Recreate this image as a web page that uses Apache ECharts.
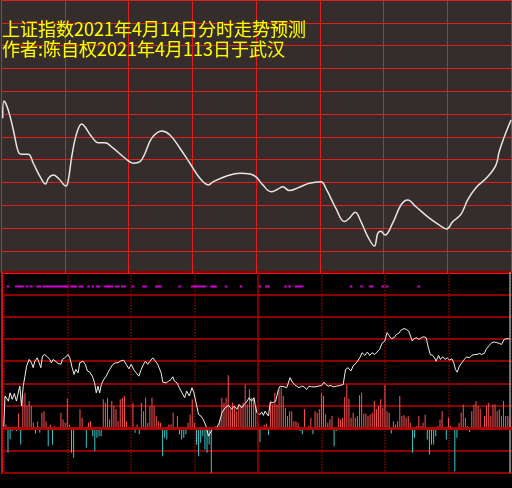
<!DOCTYPE html>
<html><head><meta charset="utf-8">
<script src="https://cdn.jsdelivr.net/npm/echarts@6/dist/echarts.min.js"></script>
<style>
html,body{margin:0;padding:0;background:#000;}
#c{width:512px;height:488px;background:linear-gradient(#352c2c 0,#352c2c 273px,#000 273px);}
</style>
</head><body><div id="c"></div>
<script>
// ---------- text ----------
const titleLine1 = '上证指数2021年4月14日分时走势预测';
const titleLine2 = '作者:陈自权2021年4月113日于武汉';

// ---------- top panel: forecast curve (minute of session, index level) ----------
const forecastMinutes = [0.8,1.4,3.4,5.8,8.1,9.7,12.8,15.2,18.4,21.0,22.3,24.6,27.0,30.6,31.7,33.3,35.6,38.0,39.5,42.7,45.8,48.9,52.8,58.4,62.3,65.4,67.8,70.9,75.6,79.5,84.2,88.9,93.6,97.6,99.9,106.2,112.5,117.2,120,123.2,127.1,130.2,132.6,135.7,140.4,145.1,150.6,152.9,157.6,161.6,163.9,166.7,169.4,172.6,175.7,177.3,178.8,180.7,184.3,188.2,191.4,195.3,201.6,206.3,209.7,212.6,216.5,219.6,223.5,229.0,232.9,234.4,236.8,240];
const forecastValues = [3398.1,3405.7,3401.8,3393.0,3383.5,3382.3,3382.3,3378.4,3372.5,3369.3,3371.8,3373.2,3371.8,3368.4,3371.1,3381.3,3391.5,3395.6,3394.4,3390.0,3387.4,3387.4,3385.0,3380.6,3378.4,3379.1,3382.8,3389.3,3392.5,3390.8,3385.0,3378.4,3371.8,3368.9,3370.3,3372.8,3374.0,3373.7,3372.4,3368.9,3365.9,3367.0,3368.1,3366.4,3367.9,3369.6,3370.3,3367.4,3358.6,3352.8,3354.3,3356.9,3352.8,3346.2,3342.1,3347.7,3348.6,3346.9,3352.1,3360.1,3362.3,3359.3,3354.3,3351.3,3349.6,3352.8,3356.1,3362.3,3367.7,3372.5,3377.6,3383.3,3389.9,3397.4];
const priceMin = 3330, priceMax = 3450, priceStep = 10;

// ---------- bottom panel ----------
// per-minute bars (0..239)
const barValues = [10,16,-110,-50,-13,0,-13,66,-73,150,158,100,121,99,24,-24,30,-21,69,76,31,-81,16,-73,8,0,0,69,39,24,
132,16,-111,-133,0,-8,84,46,0,-88,24,31,-36,-103,-43,-36,-36,129,114,136,39,121,99,84,31,129,136,144,31,0,
-8,114,-21,16,-28,114,76,136,24,99,136,99,54,31,24,-126,-43,-51,16,16,69,0,54,-28,-51,-43,-28,24,61,129,
24,-73,-126,-66,-36,-96,-111,-73,-204,0,8,9,39,136,114,136,237,84,114,99,76,106,99,114,195,106,174,136,136,100,
31,-63,8,15,21,-31,121,106,158,106,174,181,144,91,54,76,76,31,31,24,-13,-28,84,5,9,46,-28,76,69,84,
156,144,61,24,39,54,-81,-13,46,39,46,139,194,132,46,69,46,54,147,158,66,66,54,61,69,121,84,99,129,91,
193,76,69,-24,31,16,31,144,54,58,46,54,24,-111,-43,9,54,9,24,61,-51,-118,-73,-73,-36,9,39,76,-6,-51,
46,9,-6,-193,-43,24,69,106,46,9,-18,76,106,121,99,87,3,54,99,114,54,106,106,76,84,54,121,54,54,46];
// white line: [minute, value]
const flowLine = [[0,9],[0.6,144],[1.4,151],[2.2,121],[3,158],[4,129],[5,155],[6,121],[7,166],[7.6,188],[8.4,99],[9.2,188],[10,233],[10.8,278],[12,308],[13.1,293],[13.9,271],[14.7,300],[15.8,315],[16.7,293],[17.5,271],[18.3,323],[19.4,330],[20.5,320],[21.8,308],[22.5,293],[23.3,308],[24.1,300],[25.7,290],[27,286],[27.7,308],[28.8,315],[30.4,330],[31.2,315],[32.3,271],[33.2,241],[34,263],[35.1,248],[35.9,293],[37.4,300],[38.5,286],[39.5,256],[40.6,251],[41.8,233],[42.9,203],[43.7,158],[44.5,188],[45.3,158],[46.1,196],[47.2,218],[48.4,233],[50,263],[51.6,286],[52.8,293],[53.9,293],[55,300],[56.6,305],[57.8,286],[59.1,266],[60.2,286],[61.3,263],[62.5,248],[63.8,233],[64.9,263],[66,286],[66.9,300],[68,286],[69.1,300],[70.4,315],[71.6,300],[72.7,286],[74.3,248],[75.1,206],[76.7,203],[77.9,211],[79,218],[79.8,230],[80.6,211],[81.8,203],[82.9,181],[84.2,158],[85.4,136],[86.4,166],[87.6,144],[88.9,181],[89.8,158],[90.8,114],[92,61],[93.1,54],[94.2,39],[95.5,9],[96.7,-36],[98.6,-3],[100.2,-3],[101.8,24],[103,69],[104.6,91],[106.2,102],[107.6,84],[108.8,99],[110.1,84],[111.2,106],[112.4,91],[113.5,106],[114.6,117],[115.9,136],[117,121],[118.2,136],
[118.7,106],[119.5,69],[120.3,76],[121,61],[121.8,72],[122.6,57],[123.4,76],[124.2,69],[125,54],[125.8,114],[126.5,121],[127.3,114],[128.4,121],[129.7,173],[130.5,188],[131.2,181],[132.5,185],[133.6,181],[134.4,188],[135.2,226],[136,211],[137.2,196],[138.3,188],[139.4,181],[140.7,188],[141.9,185],[143,173],[144.1,188],[145.4,185],[146.9,185],[148.5,188],[150.1,191],[151.2,206],[152.1,196],[153.2,188],[154.5,191],[155.6,185],[157.1,188],[158.7,191],[160.3,196],[161.4,263],[162.6,271],[163.9,256],[165,278],[166.5,293],[168.1,315],[169.2,338],[170.5,326],[171.7,341],[172.8,326],[173.9,338],[175.2,330],[176.3,341],[177.5,353],[178.6,380],[179.9,390],[181,428],[181.9,416],[183,401],[184.3,405],[185.4,420],[186.5,425],[187.7,440],[189,446],[190.1,443],[191.2,435],[192.1,413],[192.9,390],[193.7,401],[194.8,405],[196,398],[197.1,405],[198.4,410],[199.5,405],[200.3,368],[201.4,330],[202.6,326],[203.4,315],[204.2,300],[205.3,326],[206.2,308],[207.3,320],[208.4,308],[209.4,315],[210.5,305],[211.6,311],[212.5,293],[213.3,263],[214.1,251],[215.2,278],[216.3,293],[217.5,308],[218.6,320],[219.9,315],[221,326],[222.2,330],[223.5,330],[224.6,335],[225.7,330],[226.9,335],[228,356],[229.3,371],[230.4,383],[231.6,386],[232.9,383],[234,380],[235.1,375],[236.3,398],[237.6,401],[239.2,401]];
// minutes with magenta markers
const markerMinutes = [2,6,7,8,9,11,13,16,17,19,20,21,22,23,24,25,26,27,28,29,30,32,33,34,36,37,40,42,44,45,48,49,50,51,53,54,56,57,61,66,67,72,73,74,83,89,90,91,92,93,94,95,98,99,100,105,112,121,124,125,133,135,138,139,140,141,164,169,173,174,179,181,196];
const markerLevel = 635;
const flowMin = -200, flowMax = 700, flowStep = 100;

const gridRed = '#e41e1e';
const darkRed = '#8c0000';
const upColor = '#ff5252';
const downColor = '#3cc8c8';

const chart = echarts.init(document.getElementById('c'), null, {renderer: 'canvas'});
const noAxis = {axisLine:{show:false}, axisTick:{show:false}, axisLabel:{show:false}};
chart.setOption({
  backgroundColor: 'transparent',
  animation: false,
  title: {
    text: titleLine1 + '\n' + titleLine2,
    left: 2, top: 19, padding: 0,
    textStyle: {color:'#ffff00', fontSize:18, fontWeight:'normal', fontFamily:'"Noto Sans CJK SC"', lineHeight:20,
      textBorderColor:'#5a5000', textBorderWidth:0.6}
  },
  grid: [
    {left:1, top:0, width:510, height:273.6, show:false},
    {left:3.75, top:272, width:510, height:200.7, show:false}
  ],
  xAxis: [
    Object.assign({type:'value', gridIndex:0, min:0, max:240, interval:30,
      splitLine:{show:true, lineStyle:{color:gridRed, width:1}}}, noAxis),
    Object.assign({type:'value', gridIndex:1, min:0, max:240, interval:30,
      splitLine:{show:true, lineStyle:{color:darkRed, width:1.5, type:'dotted'}}}, noAxis)
  ],
  yAxis: [
    Object.assign({type:'value', gridIndex:0, min:priceMin, max:priceMax, interval:priceStep,
      splitLine:{show:true, lineStyle:{color:gridRed, width:1}}}, noAxis),
    {type:'value', gridIndex:1, min:flowMin, max:flowMax, interval:flowStep, offset:2,
      axisLine:{show:true, onZero:false, lineStyle:{color:'#d01010', width:2}},
      axisTick:{show:false}, axisLabel:{show:false},
      splitLine:{show:true, lineStyle:{color:darkRed, width:2}}}
  ],
  series: [
    {type:'line', xAxisIndex:0, yAxisIndex:0, smooth:0.4, symbol:'none',
      data: forecastMinutes.map((t,i)=>[t, forecastValues[i]]),
      lineStyle:{color:'#e6e6e6', width:1.5}},
    {type:'bar', xAxisIndex:1, yAxisIndex:1, barWidth:1,
      data: barValues.map((v,i)=>[i, v]),
      itemStyle:{color: p => p.value[1] >= 0 ? upColor : downColor},
      markLine:{silent:true, symbol:'none', label:{show:false},
        data:[
          {xAxis:120, lineStyle:{color:'#9a0000', type:'solid', width:1.5}},
          {xAxis:238.8, lineStyle:{color:'#9a9a9a', type:'solid', width:1.5}},
          {yAxis:0, lineStyle:{color:'#b00000', type:'solid', width:3}}
        ]}},
    {type:'line', xAxisIndex:1, yAxisIndex:1, symbol:'none', smooth:false,
      data: flowLine, lineStyle:{color:'#f0f0f0', width:1}},
    {type:'scatter', xAxisIndex:1, yAxisIndex:1, symbol:'rect', symbolSize:[2.6,2],
      data: markerMinutes.map(m=>[m, markerLevel]), itemStyle:{color:'#ff00ff'}}
  ]
});
</script>
</body></html>
